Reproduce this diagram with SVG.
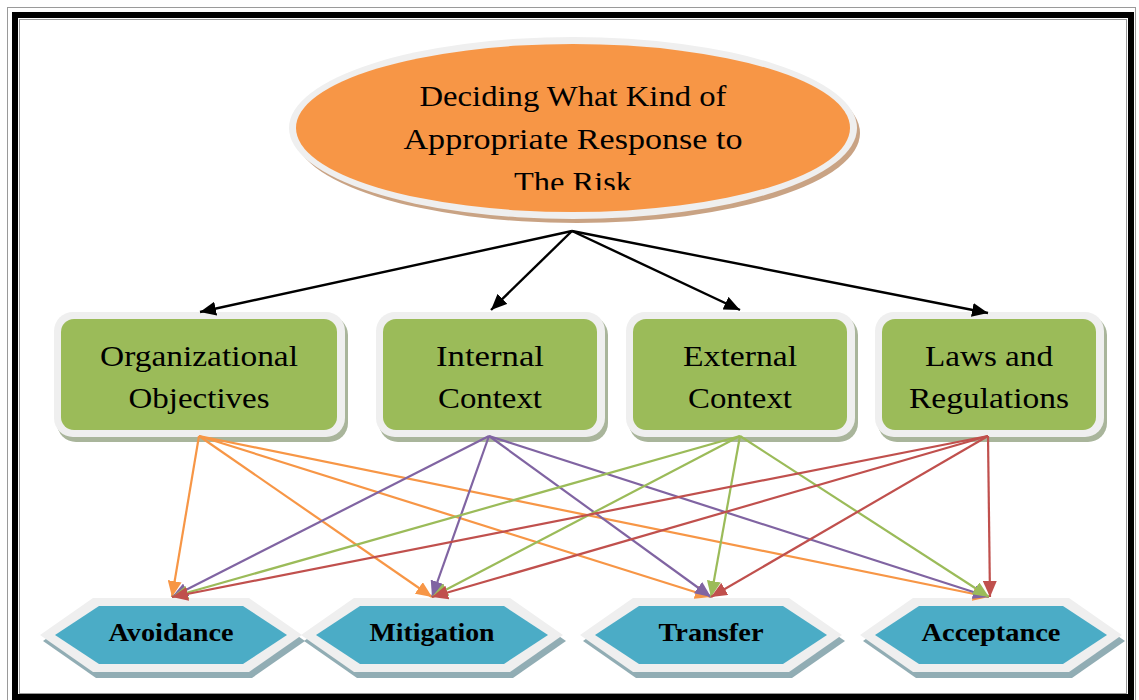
<svg xmlns="http://www.w3.org/2000/svg" width="1139" height="700" viewBox="0 0 1139 700">
  <style>
    .frame-line { fill: none; stroke: #9a9a9a; stroke-width: 1; }
    .frame-band { fill: none; stroke: #000; stroke-width: 6; }
    .rim { fill: #efefef; }
    .box-shadow { fill: #a9b59b; }
    .box { fill: #9bbb59; }
    .hex-shadow { fill: #91adb4; }
    .hex { fill: #4bacc6; }
    .label { font-family: "Liberation Serif", "DejaVu Serif", serif; font-size: 30px; fill: #000; text-anchor: middle; }
    .hex-label { font-family: "Liberation Serif", "DejaVu Serif", serif; font-size: 25px; font-weight: bold; fill: #000; text-anchor: middle; }
    .c-black { stroke: #000; stroke-width: 2.4; fill: none; }
    .c-orange { stroke: #f79646; stroke-width: 2.2; fill: none; }
    .c-purple { stroke: #8064a2; stroke-width: 2.2; fill: none; }
    .c-green { stroke: #9bbb59; stroke-width: 2.2; fill: none; }
    .c-red { stroke: #c0504d; stroke-width: 2.2; fill: none; }
  </style>
  <defs>
    <marker id="ah-black" markerUnits="userSpaceOnUse" markerWidth="17" markerHeight="14" refX="16" refY="7" orient="auto">
      <path d="M0,0 L16,7 L0,14 z" fill="#000"/>
    </marker>
    <marker id="ah-orange" markerUnits="userSpaceOnUse" markerWidth="17" markerHeight="14" refX="16" refY="7" orient="auto">
      <path d="M0,0 L16,7 L0,14 z" fill="#f79646"/>
    </marker>
    <marker id="ah-purple" markerUnits="userSpaceOnUse" markerWidth="17" markerHeight="14" refX="16" refY="7" orient="auto">
      <path d="M0,0 L16,7 L0,14 z" fill="#8064a2"/>
    </marker>
    <marker id="ah-green" markerUnits="userSpaceOnUse" markerWidth="17" markerHeight="14" refX="16" refY="7" orient="auto">
      <path d="M0,0 L16,7 L0,14 z" fill="#9bbb59"/>
    </marker>
    <marker id="ah-red" markerUnits="userSpaceOnUse" markerWidth="17" markerHeight="14" refX="16" refY="7" orient="auto">
      <path d="M0,0 L16,7 L0,14 z" fill="#c0504d"/>
    </marker>
    <clipPath id="oval-text-clip">
      <rect x="280" y="40" width="590" height="150"/>
    </clipPath>
    <polygon id="hex-outer" points="-131,0 -78,-37 78,-37 131,0 78,37 -78,37"/>
    <polygon id="hex-inner" points="-116,0 -72,-29 72,-29 116,0 72,29 -72,29"/>
  </defs>

  <rect width="1139" height="700" fill="#fff"/>

  <!-- page border -->
  <g id="border">
    <rect class="frame-line" x="7.5" y="7.5" width="1128" height="710"/>
    <rect class="frame-band" x="15" y="15" width="1116" height="682"/>
    <rect class="frame-line" x="19.5" y="19.5" width="1107" height="674"/>
  </g>

  <!-- top decision oval -->
  <g id="decision">
    <ellipse cx="577" cy="133" rx="283" ry="90" fill="#c9a384"/>
    <ellipse class="rim" cx="573" cy="128" rx="284" ry="91"/>
    <ellipse cx="573" cy="128" rx="277" ry="84" fill="#f79646"/>
    <g clip-path="url(#oval-text-clip)">
      <text class="label" x="573" y="106" textLength="307" lengthAdjust="spacingAndGlyphs">Deciding What Kind of</text>
      <text class="label" x="573" y="149" textLength="339" lengthAdjust="spacingAndGlyphs">Appropriate Response to</text>
      <text class="label" x="573" y="192" textLength="118" lengthAdjust="spacingAndGlyphs">The Risk</text>
    </g>
  </g>

  <!-- factor boxes -->
  <g id="organizational-objectives">
    <rect class="box-shadow" x="57" y="316" width="291" height="126" rx="19"/>
    <rect class="rim" x="54" y="312" width="291" height="125" rx="19"/>
    <rect class="box" x="61" y="319" width="276" height="111" rx="13"/>
    <text class="label" x="199" y="366" textLength="198" lengthAdjust="spacingAndGlyphs">Organizational</text>
    <text class="label" x="199" y="408" textLength="141" lengthAdjust="spacingAndGlyphs">Objectives</text>
  </g>
  <g id="internal-context">
    <rect class="box-shadow" x="379" y="316" width="229" height="126" rx="19"/>
    <rect class="rim" x="376" y="312" width="229" height="125" rx="19"/>
    <rect class="box" x="383" y="319" width="214" height="111" rx="13"/>
    <text class="label" x="490" y="366" textLength="108" lengthAdjust="spacingAndGlyphs">Internal</text>
    <text class="label" x="490" y="408" textLength="104" lengthAdjust="spacingAndGlyphs">Context</text>
  </g>
  <g id="external-context">
    <rect class="box-shadow" x="629" y="316" width="229" height="126" rx="19"/>
    <rect class="rim" x="626" y="312" width="229" height="125" rx="19"/>
    <rect class="box" x="633" y="319" width="214" height="111" rx="13"/>
    <text class="label" x="740" y="366" textLength="114" lengthAdjust="spacingAndGlyphs">External</text>
    <text class="label" x="740" y="408" textLength="104" lengthAdjust="spacingAndGlyphs">Context</text>
  </g>
  <g id="laws-and-regulations">
    <rect class="box-shadow" x="878" y="316" width="229" height="126" rx="19"/>
    <rect class="rim" x="875" y="312" width="229" height="125" rx="19"/>
    <rect class="box" x="882" y="319" width="214" height="111" rx="13"/>
    <text class="label" x="989" y="366" textLength="128" lengthAdjust="spacingAndGlyphs">Laws and</text>
    <text class="label" x="989" y="408" textLength="160" lengthAdjust="spacingAndGlyphs">Regulations</text>
  </g>

  <!-- response options -->
  <g id="avoidance" transform="translate(171,635)">
    <use href="#hex-outer" class="hex-shadow" transform="translate(3,6)"/>
    <use href="#hex-outer" class="rim"/>
    <use href="#hex-inner" class="hex"/>
    <text class="hex-label" x="0" y="6" textLength="125" lengthAdjust="spacingAndGlyphs">Avoidance</text>
  </g>
  <g id="mitigation" transform="translate(432,635)">
    <use href="#hex-outer" class="hex-shadow" transform="translate(3,6)"/>
    <use href="#hex-outer" class="rim"/>
    <use href="#hex-inner" class="hex"/>
    <text class="hex-label" x="0" y="6" textLength="125" lengthAdjust="spacingAndGlyphs">Mitigation</text>
  </g>
  <g id="transfer" transform="translate(711,635)">
    <use href="#hex-outer" class="hex-shadow" transform="translate(3,6)"/>
    <use href="#hex-outer" class="rim"/>
    <use href="#hex-inner" class="hex"/>
    <text class="hex-label" x="0" y="6" textLength="105" lengthAdjust="spacingAndGlyphs">Transfer</text>
  </g>
  <g id="acceptance" transform="translate(991,635)">
    <use href="#hex-outer" class="hex-shadow" transform="translate(3,6)"/>
    <use href="#hex-outer" class="rim"/>
    <use href="#hex-inner" class="hex"/>
    <text class="hex-label" x="0" y="6" textLength="139" lengthAdjust="spacingAndGlyphs">Acceptance</text>
  </g>

  <!-- connectors -->
  <g id="connectors">
    <line class="c-black" x1="572" y1="231" x2="200" y2="312" marker-end="url(#ah-black)"/>
    <line class="c-black" x1="572" y1="231" x2="491" y2="310" marker-end="url(#ah-black)"/>
    <line class="c-black" x1="572" y1="231" x2="740" y2="310" marker-end="url(#ah-black)"/>
    <line class="c-black" x1="572" y1="231" x2="988" y2="313" marker-end="url(#ah-black)"/>

    <line class="c-orange" x1="199" y1="436" x2="172" y2="597" marker-end="url(#ah-orange)"/>
    <line class="c-orange" x1="199" y1="436" x2="432" y2="597" marker-end="url(#ah-orange)"/>
    <line class="c-orange" x1="199" y1="436" x2="711" y2="597" marker-end="url(#ah-orange)"/>
    <line class="c-orange" x1="199" y1="436" x2="989" y2="597" marker-end="url(#ah-orange)"/>

    <line class="c-purple" x1="489" y1="436" x2="172" y2="597" marker-end="url(#ah-purple)"/>
    <line class="c-purple" x1="489" y1="436" x2="432" y2="597" marker-end="url(#ah-purple)"/>
    <line class="c-purple" x1="489" y1="436" x2="711" y2="597" marker-end="url(#ah-purple)"/>
    <line class="c-purple" x1="489" y1="436" x2="989" y2="597" marker-end="url(#ah-purple)"/>

    <line class="c-green" x1="740" y1="436" x2="172" y2="597" marker-end="url(#ah-green)"/>
    <line class="c-green" x1="740" y1="436" x2="432" y2="597" marker-end="url(#ah-green)"/>
    <line class="c-green" x1="740" y1="436" x2="711" y2="597" marker-end="url(#ah-green)"/>
    <line class="c-green" x1="740" y1="436" x2="989" y2="597" marker-end="url(#ah-green)"/>

    <line class="c-red" x1="988" y1="436" x2="172" y2="597" marker-end="url(#ah-red)"/>
    <line class="c-red" x1="988" y1="436" x2="432" y2="597" marker-end="url(#ah-red)"/>
    <line class="c-red" x1="988" y1="436" x2="711" y2="597" marker-end="url(#ah-red)"/>
    <line class="c-red" x1="988" y1="436" x2="990" y2="597" marker-end="url(#ah-red)"/>
  </g>
</svg>
